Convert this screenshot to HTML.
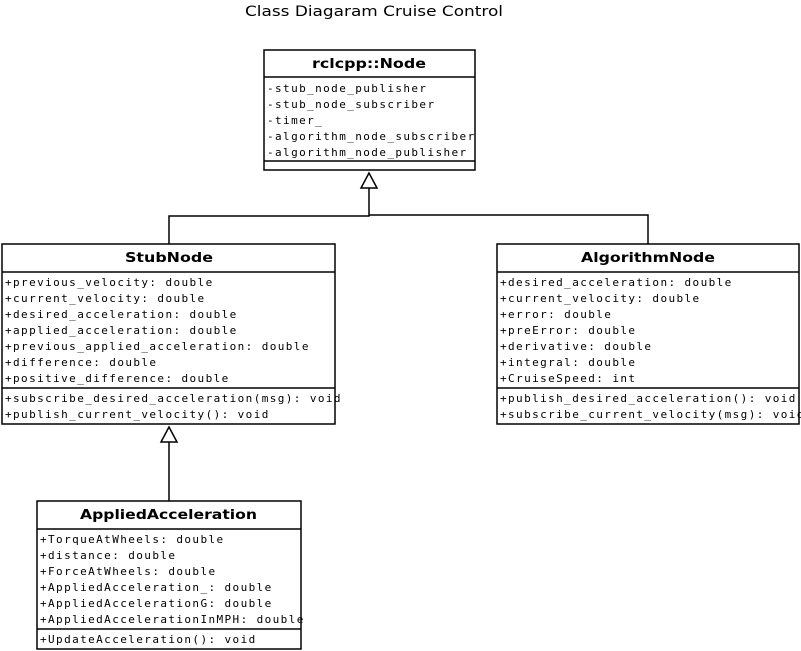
<!DOCTYPE html>
<html><head><meta charset="utf-8"><style>
html,body{margin:0;padding:0;background:#fff;}
svg{display:block;}
.t{font-family:"DejaVu Sans Mono","Liberation Mono",monospace;font-size:11px;fill:#000;letter-spacing:1.4px;}
.h{font-family:"DejaVu Sans","Liberation Sans",sans-serif;font-size:13px;font-weight:bold;fill:#000;}
</style></head><body>
<svg width="801" height="651" viewBox="0 0 801 651" xmlns="http://www.w3.org/2000/svg">
<text x="245" y="16" textLength="258" lengthAdjust="spacingAndGlyphs" font-family="DejaVu Sans, Liberation Sans, sans-serif" font-size="14">Class Diagaram Cruise Control</text>
<g fill="none" stroke="#000" stroke-width="1.5">
<rect x="264" y="50" width="211" height="120"/><line x1="264" y1="77" x2="475" y2="77"/><line x1="264" y1="161" x2="475" y2="161"/>
<rect x="2" y="244" width="333" height="180"/><line x1="2" y1="272" x2="335" y2="272"/><line x1="2" y1="388" x2="335" y2="388"/>
<rect x="497" y="244" width="302" height="180"/><line x1="497" y1="272" x2="799" y2="272"/><line x1="497" y1="388" x2="799" y2="388"/>
<rect x="37" y="501" width="264" height="148"/><line x1="37" y1="529" x2="301" y2="529"/><line x1="37" y1="629" x2="301" y2="629"/>
<polyline points="169,244 169,216 369,216 369,188"/>
<polyline points="648,244 648,215 369,215"/>
<line x1="169" y1="501" x2="169" y2="442"/>
<polygon points="369,173 361,188 377,188" fill="#fff"/>
<polygon points="169,427 161,442 177,442" fill="#fff"/>
</g>
<text class="h" x="312" y="68" textLength="114" lengthAdjust="spacingAndGlyphs">rclcpp::Node</text>
<g class="t">
<text x="267" y="92">-stub_node_publisher</text><text x="267" y="108">-stub_node_subscriber</text><text x="267" y="124">-timer_</text><text x="267" y="140">-algorithm_node_subscriber</text><text x="267" y="156">-algorithm_node_publisher</text>
</g>
<text class="h" x="125" y="262" textLength="88" lengthAdjust="spacingAndGlyphs">StubNode</text>
<g class="t">
<text x="5" y="286">+previous_velocity: double</text><text x="5" y="302">+current_velocity: double</text><text x="5" y="318">+desired_acceleration: double</text><text x="5" y="334">+applied_acceleration: double</text><text x="5" y="350">+previous_applied_acceleration: double</text><text x="5" y="366">+difference: double</text><text x="5" y="382">+positive_difference: double</text>
<text x="5" y="402">+subscribe_desired_acceleration(msg): void</text><text x="5" y="418">+publish_current_velocity(): void</text>
</g>
<text class="h" x="581" y="262" textLength="134" lengthAdjust="spacingAndGlyphs">AlgorithmNode</text>
<g class="t">
<text x="500" y="286">+desired_acceleration: double</text><text x="500" y="302">+current_velocity: double</text><text x="500" y="318">+error: double</text><text x="500" y="334">+preError: double</text><text x="500" y="350">+derivative: double</text><text x="500" y="366">+integral: double</text><text x="500" y="382">+CruiseSpeed: int</text>
<text x="500" y="402">+publish_desired_acceleration(): void</text><text x="500" y="418">+subscribe_current_velocity(msg): void</text>
</g>
<text class="h" x="80" y="519" textLength="177" lengthAdjust="spacingAndGlyphs">AppliedAcceleration</text>
<g class="t">
<text x="40" y="543">+TorqueAtWheels: double</text><text x="40" y="559">+distance: double</text><text x="40" y="575">+ForceAtWheels: double</text><text x="40" y="591">+AppliedAcceleration_: double</text><text x="40" y="607">+AppliedAccelerationG: double</text><text x="40" y="623">+AppliedAccelerationInMPH: double</text>
<text x="40" y="643">+UpdateAcceleration(): void</text>
</g>
</svg>
</body></html>
